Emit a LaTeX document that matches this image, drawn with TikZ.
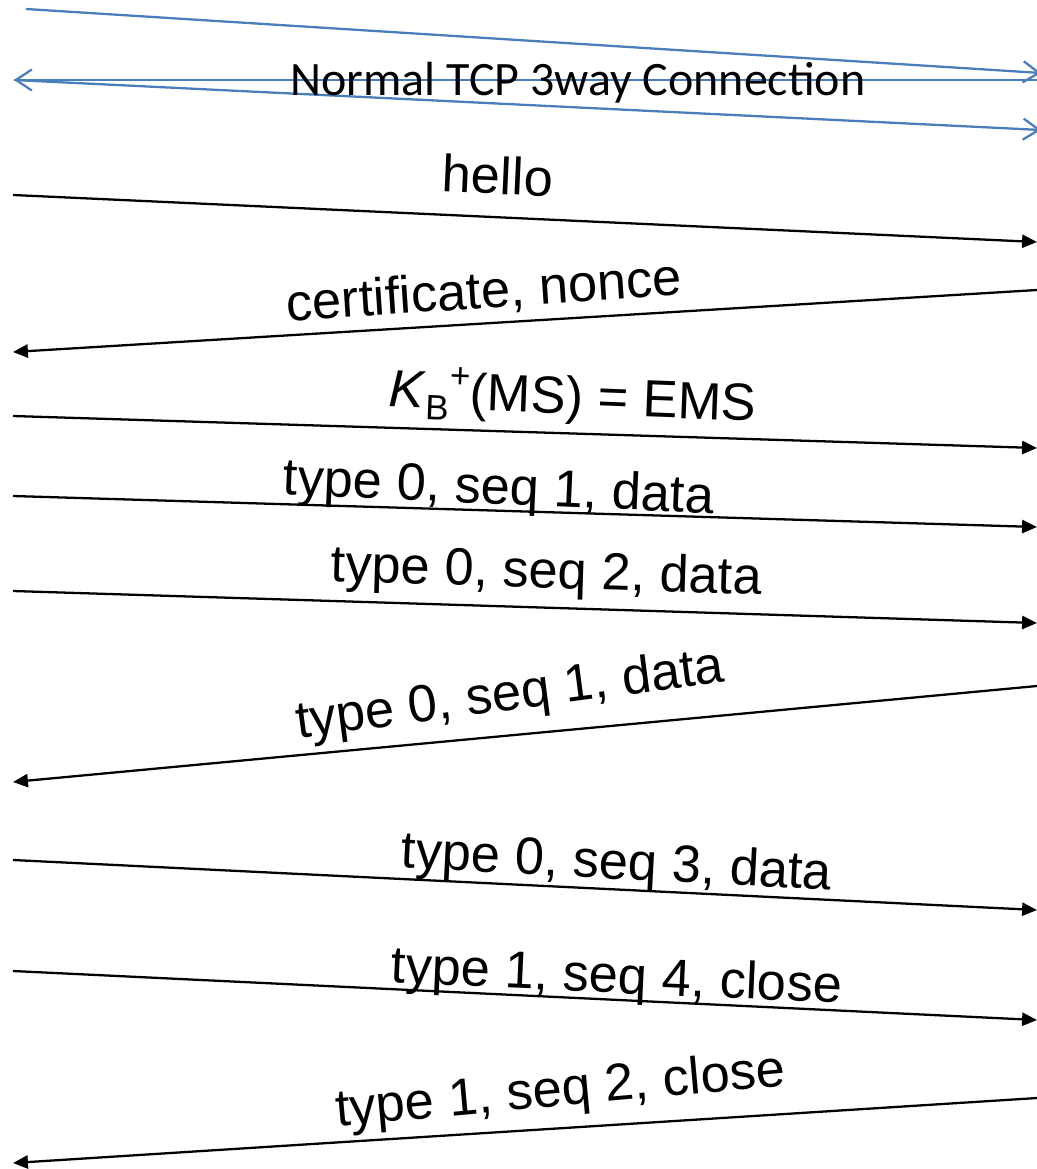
\documentclass[tikz,border=0pt]{standalone}
\usepackage{fontspec}
\setmainfont{Liberation Sans}
\newfontfamily\calfont{Carlito}
\usetikzlibrary{arrows.meta}
\definecolor{tcpblue}{HTML}{4A7EBB}
\tikzset{
  msg/.style={draw,-{Triangle[length=8.5pt,width=7.5pt]},line width=1.3pt},
  tcp/.style={draw=tcpblue,-{Straight Barb[length=9pt,width=12pt]},line width=1.3pt},
  lbl/.style={font=\fontsize{29.8}{30}\selectfont,anchor=base,inner sep=0pt},
}

\begin{document}
\begin{tikzpicture}[x=0.02cm,y=-0.02cm]
        \useasboundingbox (0,0) rectangle (1037,1169);
        % tcp handshake
        \coordinate (s1) at (26,9);    \coordinate (e1) at (1041,73);
        \coordinate (s2) at (1041,80); \coordinate (e2) at (14,80);
        \coordinate (s3) at (14,80);   \coordinate (e3) at (1041,130);
        \draw[tcp] (s1) -- (e1);
        \draw[tcp] (s2) -- (e2);
        \draw[tcp] (s3) -- (e3);
        \node[anchor=base,inner sep=0pt,font=\calfont\fontsize{27.3}{28}\selectfont] (tcp) at (578,96) {Normal TCP 3way Connection};
        % messages
        \coordinate (a1) at (13,195);  \coordinate (b1) at (1037,242);
        \coordinate (a2) at (1037,290); \coordinate (b2) at (13,352);
        \coordinate (a3) at (13,416);  \coordinate (b3) at (1037,448);
        \coordinate (a4) at (13,496);  \coordinate (b4) at (1037,527);
        \coordinate (a5) at (13,591);  \coordinate (b5) at (1037,623);
        \coordinate (a6) at (1037,686); \coordinate (b6) at (13,782);
        \coordinate (a7) at (13,860);  \coordinate (b7) at (1037,910);
        \coordinate (a8) at (13,971);  \coordinate (b8) at (1037,1020);
        \coordinate (a9) at (1037,1098); \coordinate (b9) at (13,1163);
        \draw[msg] (a1) -- (b1);
        \draw[msg] (a2) -- (b2);
        \draw[msg] (a3) -- (b3);
        \draw[msg] (a4) -- (b4);
        \draw[msg] (a5) -- (b5);
        \draw[msg] (a6) -- (b6);
        \draw[msg] (a7) -- (b7);
        \draw[msg] (a8) -- (b8);
        \draw[msg] (a9) -- (b9);
        \node[lbl,rotate=-2.6] (hello) at (497,194) {hello};
        \node[lbl,rotate=3.8] (cert) at (485,308) {certificate, nonce};
        \node[lbl,rotate=-2.2] (ems) at (572,414) {\textit{K}\raisebox{-0.22em}{\fontsize{20}{20}\selectfont B}\raisebox{0.42em}{\fontsize{20}{20}\selectfont +}(MS) = EMS};
        \node[lbl,rotate=-2.5] (seqa) at (498,504) {type 0, seq 1, data};
        \node[lbl,rotate=-1.8] (seqb) at (546,588) {type 0, seq 2, data};
        \node[lbl,rotate=7.5] (seqc) at (512,710) {type 0, seq 1, data};
        \node[lbl,rotate=-3] (seqd) at (616,879) {type 0, seq 3, data};
        \node[lbl,rotate=-2.6] (seqe) at (616,993) {type 1, seq 4, close};
        \node[lbl,rotate=5.2] (seqf) at (562,1106) {type 1, seq 2, close};
    \end{tikzpicture}
\end{document}
